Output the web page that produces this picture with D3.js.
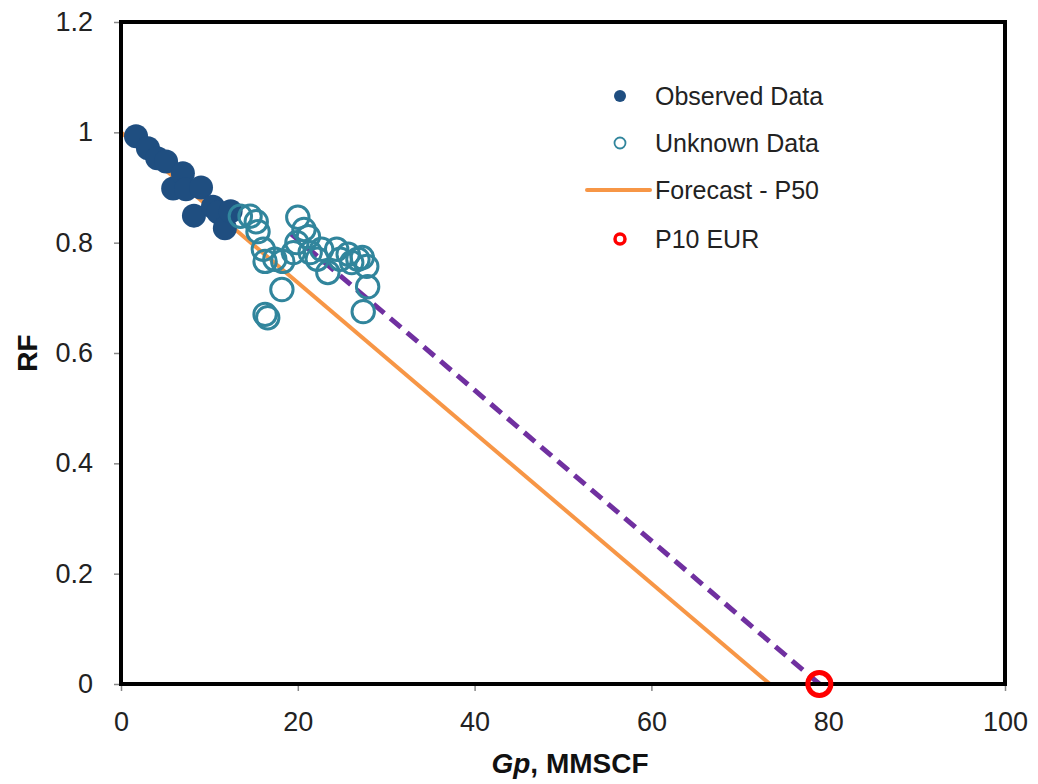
<!DOCTYPE html>
<html>
<head>
<meta charset="utf-8">
<script src="https://cdn.jsdelivr.net/npm/d3@7"></script>
<style>
  body { margin: 0; background: #fff; }
  text { font-family: "Liberation Sans", Arial, sans-serif; }
</style>
</head>
<body>
<div id="chart"></div>
<script>
// observed data (Gp, RF)
const obsGp = [1.7, 3.05, 4.1, 5.1, 5.9, 7.0, 7.35, 9.05, 8.25, 10.4, 11.0, 11.75, 12.4];
const obsRF = [0.993, 0.971, 0.953, 0.947, 0.898, 0.926, 0.897, 0.900, 0.849, 0.865, 0.855, 0.826, 0.857];

// unknown data (Gp, RF)
const unkGp = [13.5, 14.6, 15.3, 15.5, 16.1, 16.3, 17.4, 18.3, 18.2, 16.3, 16.6, 20.0, 20.7, 21.2, 19.5,
               19.9, 21.4, 22.2, 22.7, 23.4, 24.4, 24.8, 25.7, 26.1, 26.8, 27.3, 27.8, 27.9, 27.4];
const unkRF = [0.848, 0.848, 0.838, 0.820, 0.788, 0.766, 0.770, 0.766, 0.715, 0.670, 0.664, 0.846, 0.824, 0.811, 0.782,
               0.800, 0.782, 0.770, 0.788, 0.746, 0.788, 0.770, 0.779, 0.764, 0.770, 0.773, 0.757, 0.720, 0.675];

// forecast lines
const p50Gp = [0, 73.4];
const p50RF = [1.0, 0];
const p10Gp = [19.1, 79];
const p10RF = [0.818, 0];
const eurGp = [79];
const eurRF = [0];

const xTicks = [0, 20, 40, 60, 80, 100];
const yTicks = [0, 0.2, 0.4, 0.6, 0.8, 1, 1.2];

const legendLabels = ["Observed Data", "Unknown Data", "Forecast - P50", "P10 EUR"];

const W = 1038, H = 784;
const margin = {l: 121, r: 33, t: 22, b: 100};
const width = W - margin.l - margin.r;
const height = H - margin.t - margin.b;

const svg = d3.select("#chart").append("svg")
    .attr("width", W)
    .attr("height", H);

const g = svg.append("g")
    .attr("transform", `translate(${margin.l},${margin.t})`);

const x = d3.scaleLinear().domain([0, 100]).range([0, width]);
const y = d3.scaleLinear().domain([0, 1.2]).range([height, 0]);

// axes
const axX = g.append("g")
    .attr("transform", `translate(0,${height})`)
    .call(d3.axisBottom(x).tickValues(xTicks).tickSize(7).tickPadding(21).tickFormat(d3.format("d")));
const axY = g.append("g")
    .call(d3.axisLeft(y).tickValues(yTicks).tickSize(7).tickPadding(21).tickFormat(d => d === 0 || d === 1 ? d : d3.format(".1f")(d)));

[axX, axY].forEach(a => {
    a.select(".domain").remove();
    a.selectAll(".tick line").attr("stroke", "#888").attr("stroke-width", 1.5);
    a.selectAll(".tick text")
        .attr("fill", "#222")
        .style("font-size", "27px")
        .style("font-family", "Liberation Sans, Arial, sans-serif");
});

// lines
const line = d3.line().x(d => x(d[0])).y(d => y(d[1]));

g.append("path")
    .datum(d3.zip(p50Gp, p50RF))
    .attr("d", line)
    .attr("fill", "none")
    .attr("stroke", "#F79646")
    .attr("stroke-width", 4);

g.append("path")
    .datum(d3.zip(p10Gp, p10RF))
    .attr("d", line)
    .attr("fill", "none")
    .attr("stroke", "#7030A0")
    .attr("stroke-width", 5)
    .attr("stroke-dasharray", "14,8");

// observed points
g.selectAll("circle.obs")
    .data(d3.zip(obsGp, obsRF))
    .enter().append("circle")
    .attr("class", "obs")
    .attr("cx", d => x(d[0]))
    .attr("cy", d => y(d[1]))
    .attr("r", 12)
    .attr("fill", "#1F4E80");

// unknown points
g.selectAll("circle.unk")
    .data(d3.zip(unkGp, unkRF))
    .enter().append("circle")
    .attr("class", "unk")
    .attr("cx", d => x(d[0]))
    .attr("cy", d => y(d[1]))
    .attr("r", 11.2)
    .attr("fill", "none")
    .attr("stroke", "#31859C")
    .attr("stroke-width", 3);

// frame
g.append("rect")
    .attr("width", width)
    .attr("height", height)
    .attr("fill", "none")
    .attr("stroke", "#000")
    .attr("stroke-width", 4);

// P10 EUR
g.selectAll("circle.eur")
    .data(d3.zip(eurGp, eurRF))
    .enter().append("circle")
    .attr("class", "eur")
    .attr("cx", d => x(d[0]))
    .attr("cy", d => y(d[1]))
    .attr("r", 11.5)
    .attr("fill", "none")
    .attr("stroke", "#FF0000")
    .attr("stroke-width", 5);

// axis titles
svg.append("text")
    .attr("transform", `translate(37,${margin.t + height / 2}) rotate(-90)`)
    .attr("text-anchor", "middle")
    .style("font-size", "28px")
    .style("font-weight", "bold")
    .attr("fill", "#111")
    .text("RF");

const xt = svg.append("text")
    .attr("x", 570)
    .attr("y", 773)
    .attr("text-anchor", "middle")
    .style("font-size", "28px")
    .style("font-weight", "bold")
    .attr("fill", "#111");
xt.append("tspan").style("font-style", "italic").text("Gp");
xt.append("tspan").text(", MMSCF");

// legend
const lg = svg.append("g");
const rowY = [96, 143, 190, 239];
legendLabels.forEach((lab, i) => {
    const ry = rowY[i];
    if (i === 0) {
        lg.append("circle").attr("cx", 620).attr("cy", ry).attr("r", 6).attr("fill", "#1F4E80");
    } else if (i === 1) {
        lg.append("circle").attr("cx", 620).attr("cy", ry).attr("r", 5.5)
            .attr("fill", "none").attr("stroke", "#31859C").attr("stroke-width", 1.8);
    } else if (i === 2) {
        lg.append("line").attr("x1", 587).attr("x2", 650).attr("y1", ry).attr("y2", ry)
            .attr("stroke", "#F79646").attr("stroke-width", 4).attr("stroke-linecap", "round");
    } else {
        lg.append("circle").attr("cx", 620).attr("cy", ry).attr("r", 5)
            .attr("fill", "none").attr("stroke", "#FF0000").attr("stroke-width", 3.5);
    }
    lg.append("text")
        .attr("x", 655)
        .attr("y", ry + 9)
        .style("font-size", "25px")
        .attr("fill", "#222")
        .text(lab);
});
</script>
</body>
</html>
